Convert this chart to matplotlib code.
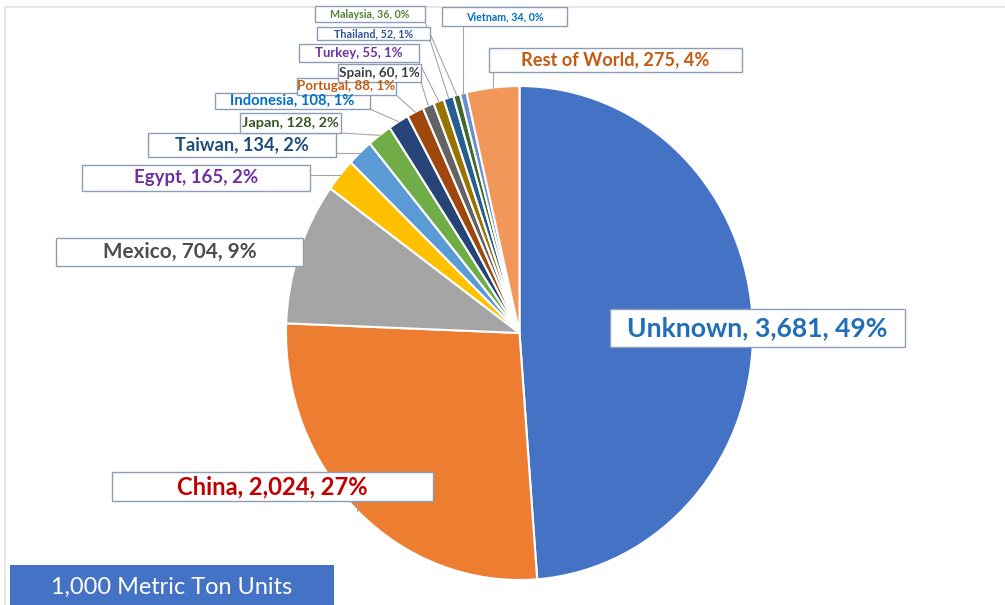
import matplotlib
matplotlib.use('Agg')
import matplotlib.pyplot as plt
from matplotlib.patches import Rectangle
from matplotlib.lines import Line2D
import numpy as np

W, H = 1005, 605

countries = ['Unknown', 'China', 'Mexico', 'Egypt', 'Taiwan', 'Japan', 'Indonesia',
             'Portugal', 'Spain', 'Turkey', 'Thailand', 'Malaysia', 'Vietnam', 'Rest of World']
values = [3681, 2024, 704, 165, 134, 128, 108, 88, 60, 55, 52, 36, 34, 275]
slice_colors = ['#4472C4', '#ED7D31', '#A5A5A5', '#FFC000', '#5B9BD5', '#70AD47', '#264478',
                '#9E480E', '#636363', '#997300', '#255E91', '#43682B', '#698ED0', '#F1975A']
label_colors = ['#1F6EB7', '#C00000', '#4D4D4D', '#7030A0', '#1F4E79', '#375623', '#0070C0',
                '#C55A11', '#404040', '#7030A0', '#2F5597', '#548235', '#0070C0', '#C55A11']

# label boxes in image pixels: left, top, right, bottom, text width
boxes = [
    (610, 309, 905, 347, 260),   # Unknown
    (112, 472, 433, 501, 190),   # China
    (56, 238, 303, 266, 153),    # Mexico
    (82, 165, 310, 191, 124),    # Egypt
    (148, 133, 336, 157, 133),   # Taiwan
    (240, 113, 341, 133, 96),    # Japan
    (215, 93, 370, 109, 123),    # Indonesia
    (297, 78, 396, 95, 97),      # Portugal
    (338, 64, 421, 82, 80),      # Spain
    (299, 44, 419, 62, 87),      # Turkey
    (317, 27, 430, 40, 78),      # Thailand
    (315, 6, 425, 22, 79),       # Malaysia
    (442, 7, 567, 26, 77),       # Vietnam
    (489, 48, 742, 72, 188),     # Rest of World
]

total = sum(values)

fig = plt.figure(figsize=(W / 100, H / 100), dpi=100)
fig.patch.set_facecolor('white')

# pie centre ~ (519.5, 333), slightly taller than wide
cx, cy, rx, ry = 519.5, 333, 233.5, 247
ax = fig.add_axes([(cx - rx) / W, (H - cy - ry) / H, 2 * rx / W, 2 * ry / H])
wedges, _ = ax.pie(values, colors=slice_colors, startangle=90, counterclock=False,
                   wedgeprops=dict(edgecolor='white', linewidth=1.5))
ax.set_aspect('auto')
ax.set_xlim(-1, 1)
ax.set_ylim(-1, 1)
ax.axis('off')

def fx(x):
    return x / W

def fy(y):
    return (H - y) / H

# faint frame of the original screenshot
fig.add_artist(Line2D([fx(5), fx(W)], [fy(7), fy(7)], color='#E3E3E3', lw=1.2))
fig.add_artist(Line2D([fx(5), fx(5)], [fy(7), fy(H)], color='#E3E3E3', lw=1.2))

# leader lines
for w, (x0, y0, x1, y1, tw) in zip(wedges, boxes):
    mid = np.deg2rad((w.theta1 + w.theta2) / 2)
    px, py = ax.transData.transform((np.cos(mid), np.sin(mid)))
    py = H - py
    bx = min(max(px, x0), x1)
    by = min(max(py, y0), y1)
    fig.add_artist(Line2D([fx(px), fx(bx)], [fy(py), fy(by)], color='#A6A6A6', lw=0.8, zorder=3))

for i, (x0, y0, x1, y1, tw) in enumerate(boxes):
    fig.add_artist(Rectangle((fx(x0), fy(y1)), fx(x1 - x0), (y1 - y0) / H,
                             facecolor='white', edgecolor='#8C9DB5', lw=1, zorder=4 + i * 0.01))

texts = []
for name, v, col, (x0, y0, x1, y1, tw) in zip(countries, values, label_colors, boxes):
    pct = v / total * 100
    s = f'{name}, {v:,}, {pct:.0f}%'
    t = fig.text(fx((x0 + x1) / 2), fy((y0 + y1) / 2), s, ha='center', va='center',
                 color=col, fontsize=12, fontweight='bold', family='Lato', zorder=6)
    texts.append((t, tw))

# units box
fig.add_artist(Rectangle((fx(10), 0), fx(324), (H - 565) / H, facecolor='#4472C4',
                         edgecolor='none', zorder=4))
t = fig.text(fx(172), fy(587), '1,000 Metric Ton Units', ha='center', va='center',
             color='white', fontsize=14, family='Lato', zorder=6)
texts.append((t, 241))

# fit font sizes to the widths measured on the reference
fig.canvas.draw()
r = fig.canvas.get_renderer()
for t, tw in texts:
    bb = t.get_window_extent(r)
    t.set_fontsize(t.get_fontsize() * tw / bb.width)

fig.savefig('out.png', dpi=100)
